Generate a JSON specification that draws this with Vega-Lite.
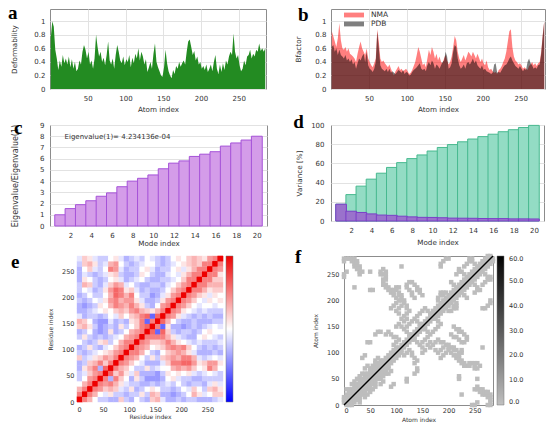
{
"$schema":"https://vega.github.io/schema/vega-lite/v6.json",
"background":"white",
"padding":{"left":7,"top":3,"right":0,"bottom":0},
"spacing":-1,
"resolve":{"scale":{"color":"independent","x":"independent","y":"independent"},"legend":{"color":"independent"}},
"config":{
 "font":"DejaVu Sans",
 "view":{"stroke":"#8c8c8c","strokeWidth":1},
 "axis":{"labelFontSize":7,"titleFontSize":7.2,"titleFontWeight":"normal","labelColor":"#333333","titleColor":"#333333","gridColor":"#e2e2e2","domain":false,"ticks":false,"labelOverlap":false},
 "legend":{"labelColor":"#333333","labelFont":"DejaVu Sans"}
},
"vconcat":[
{"hconcat":[
 {"width":216,"height":80,
  "layer":[
   {"data":{"values":[{"i":1,"d":0.75},{"i":3,"d":1.0},{"i":5,"d":0.92},{"i":7,"d":0.58},{"i":9,"d":0.45},{"i":11,"d":0.28},{"i":13,"d":0.42},{"i":15,"d":0.33},{"i":17,"d":0.5},{"i":19,"d":0.38},{"i":21,"d":0.45},{"i":23,"d":0.36},{"i":25,"d":0.48},{"i":27,"d":0.32},{"i":29,"d":0.44},{"i":31,"d":0.3},{"i":33,"d":0.4},{"i":35,"d":0.26},{"i":37,"d":0.3},{"i":39,"d":0.42},{"i":41,"d":0.36},{"i":43,"d":0.55},{"i":45,"d":0.65},{"i":47,"d":0.58},{"i":49,"d":0.45},{"i":51,"d":0.55},{"i":53,"d":0.36},{"i":55,"d":0.42},{"i":57,"d":0.3},{"i":59,"d":0.45},{"i":61,"d":0.8},{"i":63,"d":0.62},{"i":65,"d":0.48},{"i":67,"d":0.55},{"i":69,"d":0.4},{"i":71,"d":0.46},{"i":73,"d":0.35},{"i":75,"d":0.5},{"i":77,"d":0.7},{"i":79,"d":0.42},{"i":81,"d":0.36},{"i":83,"d":0.45},{"i":85,"d":0.3},{"i":87,"d":0.5},{"i":89,"d":0.65},{"i":91,"d":0.55},{"i":93,"d":0.42},{"i":95,"d":0.38},{"i":97,"d":0.48},{"i":99,"d":0.35},{"i":101,"d":0.44},{"i":103,"d":0.4},{"i":105,"d":0.5},{"i":107,"d":0.32},{"i":109,"d":0.46},{"i":111,"d":0.38},{"i":113,"d":0.52},{"i":115,"d":0.45},{"i":117,"d":0.6},{"i":119,"d":0.42},{"i":121,"d":0.55},{"i":123,"d":0.48},{"i":125,"d":0.36},{"i":127,"d":0.44},{"i":129,"d":0.25},{"i":131,"d":0.32},{"i":133,"d":0.4},{"i":135,"d":0.3},{"i":137,"d":0.52},{"i":139,"d":0.67},{"i":141,"d":0.4},{"i":143,"d":0.32},{"i":145,"d":0.26},{"i":147,"d":0.2},{"i":149,"d":0.18},{"i":151,"d":0.32},{"i":153,"d":0.58},{"i":155,"d":0.38},{"i":157,"d":0.26},{"i":159,"d":0.2},{"i":161,"d":0.16},{"i":163,"d":0.28},{"i":165,"d":0.22},{"i":167,"d":0.34},{"i":169,"d":0.3},{"i":171,"d":0.4},{"i":173,"d":0.33},{"i":175,"d":0.38},{"i":177,"d":0.42},{"i":179,"d":0.36},{"i":181,"d":0.55},{"i":183,"d":0.7},{"i":185,"d":0.73},{"i":187,"d":0.62},{"i":189,"d":0.5},{"i":191,"d":0.56},{"i":193,"d":0.42},{"i":195,"d":0.48},{"i":197,"d":0.36},{"i":199,"d":0.4},{"i":201,"d":0.3},{"i":203,"d":0.34},{"i":205,"d":0.28},{"i":207,"d":0.36},{"i":209,"d":0.25},{"i":211,"d":0.3},{"i":213,"d":0.36},{"i":215,"d":0.26},{"i":217,"d":0.4},{"i":219,"d":0.5},{"i":221,"d":0.3},{"i":223,"d":0.22},{"i":225,"d":0.36},{"i":227,"d":0.25},{"i":229,"d":0.38},{"i":231,"d":0.28},{"i":233,"d":0.42},{"i":235,"d":0.36},{"i":237,"d":0.48},{"i":239,"d":0.55},{"i":241,"d":0.5},{"i":243,"d":0.82},{"i":245,"d":0.55},{"i":247,"d":0.45},{"i":249,"d":0.5},{"i":251,"d":0.35},{"i":253,"d":0.26},{"i":255,"d":0.3},{"i":257,"d":0.42},{"i":259,"d":0.35},{"i":261,"d":0.48},{"i":263,"d":0.5},{"i":265,"d":0.58},{"i":267,"d":0.45},{"i":269,"d":0.52},{"i":271,"d":0.48},{"i":273,"d":0.58},{"i":275,"d":0.55},{"i":277,"d":0.67},{"i":279,"d":0.56},{"i":281,"d":0.6},{"i":283,"d":0.55},{"i":285,"d":0.6}]},
    "mark":{"type":"area","color":"#238b22"},
    "encoding":{
     "x":{"field":"i","type":"quantitative","title":"Atom index","scale":{"domain":[0,286],"nice":false,"zero":false},"axis":{"values":[50,100,150,200,250],"labelPadding":5,"titlePadding":4}},
     "y":{"field":"d","type":"quantitative","title":"Deformability","scale":{"domain":[0,1.18],"nice":false},"axis":{"values":[0,0.2,0.4,0.6,0.8,1],"format":".1~f","labelPadding":5,"titlePadding":15}}
    }},
   {"data":{"values":[{"t":"a"}]},
    "mark":{"type":"text","font":"Liberation Serif","fontWeight":"bold","fontSize":19,"align":"left","baseline":"alphabetic","color":"#000000"},
    "encoding":{
     "x":{"datum":-55.6,"type":"quantitative","title":"Atom index","axis":{"values":[50,100,150,200,250],"labelPadding":5,"titlePadding":4}},
     "y":{"datum":1.033,"type":"quantitative","title":"Deformability","axis":{"values":[0,0.2,0.4,0.6,0.8,1],"format":".1~f","labelPadding":5,"titlePadding":15}},
     "text":{"field":"t"}
    }}
  ]
 },
 {"width":214,"height":80,
  "layer":[
   {"data":{"values":[{"i":1,"NMA":0.85,"PDB":0.62},{"i":3,"NMA":0.78,"PDB":0.65},{"i":5,"NMA":0.7,"PDB":0.55},{"i":7,"NMA":0.62,"PDB":0.6},{"i":9,"NMA":0.75,"PDB":0.5},{"i":11,"NMA":0.97,"PDB":0.58},{"i":13,"NMA":0.72,"PDB":0.5},{"i":15,"NMA":0.6,"PDB":0.48},{"i":17,"NMA":0.58,"PDB":0.45},{"i":19,"NMA":0.62,"PDB":0.5},{"i":21,"NMA":0.55,"PDB":0.42},{"i":23,"NMA":0.6,"PDB":0.45},{"i":25,"NMA":0.52,"PDB":0.4},{"i":27,"NMA":0.5,"PDB":0.44},{"i":29,"NMA":0.48,"PDB":0.36},{"i":31,"NMA":0.45,"PDB":0.4},{"i":33,"NMA":0.4,"PDB":0.3},{"i":35,"NMA":0.52,"PDB":0.38},{"i":37,"NMA":0.62,"PDB":0.45},{"i":39,"NMA":0.7,"PDB":0.42},{"i":41,"NMA":0.6,"PDB":0.48},{"i":43,"NMA":0.55,"PDB":0.52},{"i":45,"NMA":0.5,"PDB":0.4},{"i":47,"NMA":0.6,"PDB":0.55},{"i":49,"NMA":0.45,"PDB":0.35},{"i":51,"NMA":0.4,"PDB":0.3},{"i":53,"NMA":0.35,"PDB":0.28},{"i":55,"NMA":0.32,"PDB":0.25},{"i":57,"NMA":0.38,"PDB":0.3},{"i":59,"NMA":0.45,"PDB":0.4},{"i":61,"NMA":0.88,"PDB":0.85},{"i":63,"NMA":0.7,"PDB":0.6},{"i":65,"NMA":0.45,"PDB":0.35},{"i":67,"NMA":0.4,"PDB":0.3},{"i":69,"NMA":0.42,"PDB":0.28},{"i":71,"NMA":0.38,"PDB":0.26},{"i":73,"NMA":0.35,"PDB":0.3},{"i":75,"NMA":0.32,"PDB":0.25},{"i":77,"NMA":0.36,"PDB":0.3},{"i":79,"NMA":0.3,"PDB":0.24},{"i":81,"NMA":0.24,"PDB":0.26},{"i":83,"NMA":0.2,"PDB":0.24},{"i":85,"NMA":0.26,"PDB":0.22},{"i":87,"NMA":0.3,"PDB":0.25},{"i":89,"NMA":0.34,"PDB":0.28},{"i":91,"NMA":0.28,"PDB":0.26},{"i":93,"NMA":0.3,"PDB":0.24},{"i":95,"NMA":0.26,"PDB":0.28},{"i":97,"NMA":0.28,"PDB":0.22},{"i":99,"NMA":0.3,"PDB":0.25},{"i":101,"NMA":0.26,"PDB":0.24},{"i":103,"NMA":0.22,"PDB":0.2},{"i":105,"NMA":0.24,"PDB":0.21},{"i":107,"NMA":0.28,"PDB":0.25},{"i":109,"NMA":0.34,"PDB":0.28},{"i":111,"NMA":0.4,"PDB":0.3},{"i":113,"NMA":0.5,"PDB":0.32},{"i":115,"NMA":0.62,"PDB":0.35},{"i":117,"NMA":0.55,"PDB":0.38},{"i":119,"NMA":0.45,"PDB":0.3},{"i":121,"NMA":0.35,"PDB":0.28},{"i":123,"NMA":0.38,"PDB":0.3},{"i":125,"NMA":0.32,"PDB":0.26},{"i":127,"NMA":0.45,"PDB":0.35},{"i":129,"NMA":0.58,"PDB":0.4},{"i":131,"NMA":0.5,"PDB":0.35},{"i":133,"NMA":0.62,"PDB":0.42},{"i":135,"NMA":0.55,"PDB":0.38},{"i":137,"NMA":0.45,"PDB":0.3},{"i":139,"NMA":0.52,"PDB":0.36},{"i":141,"NMA":0.42,"PDB":0.34},{"i":143,"NMA":0.48,"PDB":0.3},{"i":145,"NMA":0.4,"PDB":0.35},{"i":147,"NMA":0.38,"PDB":0.4},{"i":149,"NMA":0.45,"PDB":0.42},{"i":151,"NMA":0.5,"PDB":0.55},{"i":153,"NMA":0.42,"PDB":0.48},{"i":155,"NMA":0.36,"PDB":0.3},{"i":157,"NMA":0.4,"PDB":0.32},{"i":159,"NMA":0.48,"PDB":0.38},{"i":161,"NMA":0.62,"PDB":0.55},{"i":163,"NMA":0.78,"PDB":0.65},{"i":165,"NMA":0.72,"PDB":0.62},{"i":167,"NMA":0.55,"PDB":0.45},{"i":169,"NMA":0.45,"PDB":0.35},{"i":171,"NMA":0.4,"PDB":0.3},{"i":173,"NMA":0.45,"PDB":0.32},{"i":175,"NMA":0.5,"PDB":0.36},{"i":177,"NMA":0.42,"PDB":0.3},{"i":179,"NMA":0.48,"PDB":0.38},{"i":181,"NMA":0.55,"PDB":0.4},{"i":183,"NMA":0.52,"PDB":0.36},{"i":185,"NMA":0.48,"PDB":0.4},{"i":187,"NMA":0.55,"PDB":0.45},{"i":189,"NMA":0.5,"PDB":0.38},{"i":191,"NMA":0.45,"PDB":0.42},{"i":193,"NMA":0.52,"PDB":0.35},{"i":195,"NMA":0.46,"PDB":0.32},{"i":197,"NMA":0.4,"PDB":0.3},{"i":199,"NMA":0.45,"PDB":0.35},{"i":201,"NMA":0.38,"PDB":0.28},{"i":203,"NMA":0.35,"PDB":0.3},{"i":205,"NMA":0.42,"PDB":0.26},{"i":207,"NMA":0.32,"PDB":0.25},{"i":209,"NMA":0.28,"PDB":0.24},{"i":211,"NMA":0.3,"PDB":0.22},{"i":213,"NMA":0.26,"PDB":0.24},{"i":215,"NMA":0.24,"PDB":0.36},{"i":217,"NMA":0.25,"PDB":0.38},{"i":219,"NMA":0.22,"PDB":0.24},{"i":221,"NMA":0.28,"PDB":0.25},{"i":223,"NMA":0.3,"PDB":0.24},{"i":225,"NMA":0.34,"PDB":0.28},{"i":227,"NMA":0.4,"PDB":0.32},{"i":229,"NMA":0.45,"PDB":0.35},{"i":231,"NMA":0.55,"PDB":0.36},{"i":233,"NMA":0.7,"PDB":0.4},{"i":235,"NMA":0.85,"PDB":0.45},{"i":237,"NMA":0.88,"PDB":0.48},{"i":239,"NMA":0.62,"PDB":0.42},{"i":241,"NMA":0.48,"PDB":0.38},{"i":243,"NMA":0.42,"PDB":0.34},{"i":245,"NMA":0.4,"PDB":0.32},{"i":247,"NMA":0.36,"PDB":0.3},{"i":249,"NMA":0.38,"PDB":0.34},{"i":251,"NMA":0.35,"PDB":0.3},{"i":253,"NMA":0.3,"PDB":0.26},{"i":255,"NMA":0.32,"PDB":0.3},{"i":257,"NMA":0.3,"PDB":0.28},{"i":259,"NMA":0.28,"PDB":0.4},{"i":261,"NMA":0.34,"PDB":0.45},{"i":263,"NMA":0.36,"PDB":0.38},{"i":265,"NMA":0.4,"PDB":0.35},{"i":267,"NMA":0.35,"PDB":0.3},{"i":269,"NMA":0.38,"PDB":0.32},{"i":271,"NMA":0.34,"PDB":0.3},{"i":273,"NMA":0.38,"PDB":0.35},{"i":275,"NMA":0.4,"PDB":0.36},{"i":277,"NMA":0.55,"PDB":0.52},{"i":279,"NMA":0.8,"PDB":0.78},{"i":281,"NMA":1.0,"PDB":1.0}]},
    "transform":[{"fold":["NMA","PDB"],"as":["s","v"]}],
    "mark":{"type":"area","opacity":0.5},
    "encoding":{
     "x":{"field":"i","type":"quantitative","title":"Atom index","scale":{"domain":[0,282],"nice":false,"zero":false},"axis":{"values":[50,100,150,200,250],"labelPadding":5,"titlePadding":4}},
     "y":{"field":"v","type":"quantitative","title":"Bfactor","stack":null,"scale":{"domain":[0,1.18],"nice":false},"axis":{"values":[0,0.2,0.4,0.6,0.8,1],"format":".1~f","labelPadding":5,"titlePadding":12.8}},
     "color":{"field":"s","type":"nominal","scale":{"domain":["NMA","PDB"],"range":["#ff0000","#000000"]},"legend":{"title":null,"orient":"none","legendX":18,"legendY":1,"direction":"vertical","symbolType":"M-2.5,-0.6H2.5V0.6H-2.5Z","symbolSize":64,"symbolOpacity":0.5,"labelFontSize":7.5,"labelOffset":12,"rowPadding":0,"padding":0}}
    }},
   {"data":{"values":[{"t":"b"}]},
    "mark":{"type":"text","font":"Liberation Serif","fontWeight":"bold","fontSize":19,"align":"left","baseline":"alphabetic","color":"#000000"},
    "encoding":{
     "x":{"datum":-43.5,"type":"quantitative","title":"Atom index","axis":{"values":[50,100,150,200,250],"labelPadding":5,"titlePadding":4}},
     "y":{"datum":1.0,"type":"quantitative","title":"Bfactor","axis":{"values":[0,0.2,0.4,0.6,0.8,1],"format":".1~f","labelPadding":5,"titlePadding":12.8}},
     "text":{"field":"t"}
    }}
  ]
 }
],"bounds":"flush","spacing":65,"resolve":{"scale":{"color":"independent","x":"independent","y":"independent"},"legend":{"color":"independent"}}},
{"hconcat":[
 {"width":217,"height":101,
  "layer":[
   {"data":{"values":[{"m":1,"e":1.0},{"m":2,"e":1.55},{"m":3,"e":1.9},{"m":4,"e":2.25},{"m":5,"e":2.65},{"m":6,"e":2.95},{"m":7,"e":3.5},{"m":8,"e":4.0},{"m":9,"e":4.25},{"m":10,"e":4.55},{"m":11,"e":5.1},{"m":12,"e":5.6},{"m":13,"e":5.8},{"m":14,"e":6.2},{"m":15,"e":6.4},{"m":16,"e":6.62},{"m":17,"e":7.12},{"m":18,"e":7.4},{"m":19,"e":7.66},{"m":20,"e":8.0}]},
    "mark":{"type":"bar","width":10.85,"fill":"#d49ce9","stroke":"#a552d8","strokeWidth":1},
    "encoding":{
     "x":{"field":"m","type":"quantitative","title":"Mode index","scale":{"domain":[0.5,20.5],"nice":false,"zero":false},"axis":{"values":[2,4,6,8,10,12,14,16,18,20],"labelPadding":5,"titlePadding":1.5,"grid":false}},
     "y":{"field":"e","type":"quantitative","title":"Eigenvalue/Eigenvalue(1)","scale":{"domain":[0,9],"nice":false},"axis":{"values":[0,1,2,3,4,5,6,7,8,9],"titleFontSize":8,"labelPadding":6,"titlePadding":20.5}}
    }},
   {"data":{"values":[{"t":"Eigenvalue(1)= 4.234136e-04"}]},
    "mark":{"type":"text","align":"left","baseline":"middle","fontSize":7,"color":"#333333"},
    "encoding":{
     "x":{"datum":1.42,"type":"quantitative","title":"Mode index","axis":{"values":[2,4,6,8,10,12,14,16,18,20],"labelPadding":5,"titlePadding":1.5,"grid":false}},
     "y":{"datum":7.9,"type":"quantitative","title":"Eigenvalue/Eigenvalue(1)","axis":{"values":[0,1,2,3,4,5,6,7,8,9],"titleFontSize":8,"labelPadding":6,"titlePadding":20.5}},
     "text":{"field":"t"}}},
   {"data":{"values":[{"t":"c"}]},
    "mark":{"type":"text","font":"Liberation Serif","fontWeight":"bold","fontSize":19,"align":"left","baseline":"alphabetic","color":"#000000"},
    "encoding":{
     "x":{"datum":-3.45,"type":"quantitative","title":"Mode index","axis":{"values":[2,4,6,8,10,12,14,16,18,20],"labelPadding":5,"titlePadding":1.5,"grid":false}},
     "y":{"datum":8.2,"type":"quantitative","title":"Eigenvalue/Eigenvalue(1)","axis":{"values":[0,1,2,3,4,5,6,7,8,9],"titleFontSize":8,"labelPadding":6,"titlePadding":20.5}},
     "text":{"field":"t"}}}
  ]
 },
 {"width":213,"height":96,
  "layer":[
   {"data":{"values":[{"m":1,"c":17.5,"p":17.5},{"m":2,"c":27.5,"p":10.2},{"m":3,"c":36.3,"p":8.9},{"m":4,"c":43.6,"p":7.4},{"m":5,"c":49.8,"p":6.2},{"m":6,"c":55.8,"p":5.9},{"m":7,"c":60.8,"p":5.0},{"m":8,"c":65.0,"p":4.3},{"m":9,"c":68.8,"p":3.8},{"m":10,"c":72.9,"p":3.7},{"m":11,"c":76.6,"p":3.4},{"m":12,"c":79.6,"p":3.0},{"m":13,"c":82.5,"p":2.9},{"m":14,"c":85.4,"p":2.8},{"m":15,"c":87.9,"p":2.6},{"m":16,"c":90.4,"p":2.5},{"m":17,"c":93.0,"p":2.5},{"m":18,"c":95.1,"p":2.2},{"m":19,"c":97.4,"p":2.2},{"m":20,"c":99.6,"p":2.1}]},
    "layer":[
     {"mark":{"type":"bar","width":10.65,"fill":"#93dcc4","stroke":"#47b98f","strokeWidth":1},
      "encoding":{
       "x":{"field":"m","type":"quantitative","title":"Mode index","scale":{"domain":[0.5,20.5],"nice":false,"zero":false},"axis":{"values":[2,4,6,8,10,12,14,16,18,20],"labelPadding":5,"titlePadding":5,"grid":false}},
       "y":{"field":"c","type":"quantitative","title":"Variance [%]","scale":{"domain":[0,100],"nice":false},"axis":{"values":[0,20,40,60,80,100],"labelPadding":7,"titlePadding":7.5}}}},
     {"mark":{"type":"bar","width":10.65,"fill":"#9a72cc","stroke":"#7b3fc8","strokeWidth":1},
      "encoding":{
       "x":{"field":"m","type":"quantitative","title":"Mode index","axis":{"values":[2,4,6,8,10,12,14,16,18,20],"labelPadding":5,"titlePadding":5,"grid":false}},
       "y":{"field":"p","type":"quantitative","title":"Variance [%]","axis":{"values":[0,20,40,60,80,100],"labelPadding":7,"titlePadding":7.5}}}}
    ]},
   {"data":{"values":[{"t":"d"}]},
    "mark":{"type":"text","font":"Liberation Serif","fontWeight":"bold","fontSize":19,"align":"left","baseline":"alphabetic","color":"#000000"},
    "encoding":{
     "x":{"datum":-3.72,"type":"quantitative","title":"Mode index","axis":{"values":[2,4,6,8,10,12,14,16,18,20],"labelPadding":5,"titlePadding":5,"grid":false}},
     "y":{"datum":96.9,"type":"quantitative","title":"Variance [%]","axis":{"values":[0,20,40,60,80,100],"labelPadding":7,"titlePadding":7.5}},
     "text":{"field":"t"}}}
  ]
 }
],"bounds":"flush","spacing":64,"resolve":{"scale":{"color":"independent","x":"independent","y":"independent"},"legend":{"color":"independent"}}},
{"hconcat":[
 {"width":173,"height":146,
  "view":{"stroke":null},
  "layer":[
   {"data":{"values":[
{"x":5,"y":5,"v":10},
{"x":5,"y":15,"v":5},{"x":15,"y":15,"v":10},
{"x":5,"y":25,"v":3},{"x":15,"y":25,"v":5},{"x":25,"y":25,"v":10},
{"x":5,"y":35,"v":0},{"x":15,"y":35,"v":3},{"x":25,"y":35,"v":5},{"x":35,"y":35,"v":10},
{"x":5,"y":45,"v":-2},{"x":15,"y":45,"v":0},{"x":25,"y":45,"v":4},{"x":35,"y":45,"v":5},{"x":45,"y":45,"v":10},
{"x":5,"y":55,"v":-2},{"x":15,"y":55,"v":-1},{"x":25,"y":55,"v":2},{"x":35,"y":55,"v":4},{"x":45,"y":55,"v":5},{"x":55,"y":55,"v":10},
{"x":5,"y":65,"v":-3},{"x":15,"y":65,"v":1},{"x":25,"y":65,"v":3},{"x":35,"y":65,"v":5},{"x":45,"y":65,"v":-3},{"x":55,"y":65,"v":6},{"x":65,"y":65,"v":10},
{"x":5,"y":75,"v":-3},{"x":15,"y":75,"v":-2},{"x":25,"y":75,"v":2},{"x":35,"y":75,"v":3},{"x":45,"y":75,"v":5},{"x":55,"y":75,"v":2},{"x":65,"y":75,"v":5},{"x":75,"y":75,"v":10},
{"x":5,"y":85,"v":2},{"x":15,"y":85,"v":-2},{"x":25,"y":85,"v":-1},{"x":35,"y":85,"v":1},{"x":45,"y":85,"v":2},{"x":55,"y":85,"v":4},{"x":65,"y":85,"v":3},{"x":75,"y":85,"v":5},{"x":85,"y":85,"v":10},
{"x":5,"y":95,"v":-2},{"x":15,"y":95,"v":-3},{"x":25,"y":95,"v":-2},{"x":35,"y":95,"v":-1},{"x":45,"y":95,"v":0},{"x":55,"y":95,"v":1},{"x":65,"y":95,"v":2},{"x":75,"y":95,"v":4},{"x":85,"y":95,"v":5},{"x":95,"y":95,"v":10},
{"x":5,"y":105,"v":-3},{"x":15,"y":105,"v":-2},{"x":25,"y":105,"v":1},{"x":35,"y":105,"v":-2},{"x":45,"y":105,"v":-3},{"x":55,"y":105,"v":-1},{"x":65,"y":105,"v":0},{"x":75,"y":105,"v":2},{"x":85,"y":105,"v":4},{"x":95,"y":105,"v":5},{"x":105,"y":105,"v":10},
{"x":5,"y":115,"v":0},{"x":15,"y":115,"v":-2},{"x":25,"y":115,"v":-3},{"x":35,"y":115,"v":-2},{"x":45,"y":115,"v":1},{"x":55,"y":115,"v":2},{"x":65,"y":115,"v":-2},{"x":75,"y":115,"v":0},{"x":85,"y":115,"v":3},{"x":95,"y":115,"v":5},{"x":105,"y":115,"v":5},{"x":115,"y":115,"v":10},
{"x":5,"y":125,"v":-2},{"x":15,"y":125,"v":1},{"x":25,"y":125,"v":-2},{"x":35,"y":125,"v":-3},{"x":45,"y":125,"v":-2},{"x":55,"y":125,"v":-3},{"x":65,"y":125,"v":-2},{"x":75,"y":125,"v":-1},{"x":85,"y":125,"v":0},{"x":95,"y":125,"v":3},{"x":105,"y":125,"v":4},{"x":115,"y":125,"v":5},{"x":125,"y":125,"v":10},
{"x":5,"y":135,"v":-3},{"x":15,"y":135,"v":-2},{"x":25,"y":135,"v":0},{"x":35,"y":135,"v":-3},{"x":45,"y":135,"v":-4},{"x":55,"y":135,"v":-3},{"x":65,"y":135,"v":1},{"x":75,"y":135,"v":-3},{"x":85,"y":135,"v":-2},{"x":95,"y":135,"v":0},{"x":105,"y":135,"v":3},{"x":115,"y":135,"v":4},{"x":125,"y":135,"v":5},{"x":135,"y":135,"v":10},
{"x":5,"y":145,"v":2},{"x":15,"y":145,"v":3},{"x":25,"y":145,"v":1},{"x":35,"y":145,"v":-2},{"x":45,"y":145,"v":-4},{"x":55,"y":145,"v":-3},{"x":65,"y":145,"v":-2},{"x":75,"y":145,"v":-3},{"x":85,"y":145,"v":1},{"x":95,"y":145,"v":-2},{"x":105,"y":145,"v":0},{"x":115,"y":145,"v":2},{"x":125,"y":145,"v":5},{"x":135,"y":145,"v":6},{"x":145,"y":145,"v":10},
{"x":5,"y":155,"v":3},{"x":15,"y":155,"v":2},{"x":25,"y":155,"v":0},{"x":35,"y":155,"v":-3},{"x":45,"y":155,"v":-4},{"x":55,"y":155,"v":-4},{"x":65,"y":155,"v":-1},{"x":75,"y":155,"v":-3},{"x":85,"y":155,"v":-2},{"x":95,"y":155,"v":-3},{"x":105,"y":155,"v":1},{"x":115,"y":155,"v":2},{"x":125,"y":155,"v":5},{"x":135,"y":155,"v":-6},{"x":145,"y":155,"v":5},{"x":155,"y":155,"v":10},
{"x":5,"y":165,"v":-1},{"x":15,"y":165,"v":-3},{"x":25,"y":165,"v":-2},{"x":35,"y":165,"v":-2},{"x":45,"y":165,"v":-3},{"x":55,"y":165,"v":-2},{"x":65,"y":165,"v":0},{"x":75,"y":165,"v":-1},{"x":85,"y":165,"v":2},{"x":95,"y":165,"v":0},{"x":105,"y":165,"v":2},{"x":115,"y":165,"v":3},{"x":125,"y":165,"v":5},{"x":135,"y":165,"v":6},{"x":145,"y":165,"v":-6},{"x":155,"y":165,"v":6},{"x":165,"y":165,"v":10},
{"x":5,"y":175,"v":-3},{"x":15,"y":175,"v":-3},{"x":25,"y":175,"v":-2},{"x":35,"y":175,"v":-1},{"x":45,"y":175,"v":0},{"x":55,"y":175,"v":1},{"x":65,"y":175,"v":0},{"x":75,"y":175,"v":2},{"x":85,"y":175,"v":3},{"x":95,"y":175,"v":2},{"x":105,"y":175,"v":4},{"x":115,"y":175,"v":5},{"x":125,"y":175,"v":3},{"x":135,"y":175,"v":2},{"x":145,"y":175,"v":1},{"x":155,"y":175,"v":3},{"x":165,"y":175,"v":5},{"x":175,"y":175,"v":10},
{"x":5,"y":185,"v":-3},{"x":15,"y":185,"v":-4},{"x":25,"y":185,"v":-3},{"x":35,"y":185,"v":-2},{"x":45,"y":185,"v":1},{"x":55,"y":185,"v":0},{"x":65,"y":185,"v":3},{"x":75,"y":185,"v":5},{"x":85,"y":185,"v":4},{"x":95,"y":185,"v":3},{"x":105,"y":185,"v":5},{"x":115,"y":185,"v":3},{"x":125,"y":185,"v":1},{"x":135,"y":185,"v":-2},{"x":145,"y":185,"v":-3},{"x":155,"y":185,"v":0},{"x":165,"y":185,"v":4},{"x":175,"y":185,"v":5},{"x":185,"y":185,"v":10},
{"x":5,"y":195,"v":-2},{"x":15,"y":195,"v":-3},{"x":25,"y":195,"v":-2},{"x":35,"y":195,"v":0},{"x":45,"y":195,"v":-1},{"x":55,"y":195,"v":1},{"x":65,"y":195,"v":4},{"x":75,"y":195,"v":5},{"x":85,"y":195,"v":3},{"x":95,"y":195,"v":4},{"x":105,"y":195,"v":4},{"x":115,"y":195,"v":1},{"x":125,"y":195,"v":-1},{"x":135,"y":195,"v":-3},{"x":145,"y":195,"v":-3},{"x":155,"y":195,"v":-2},{"x":165,"y":195,"v":1},{"x":175,"y":195,"v":4},{"x":185,"y":195,"v":5},{"x":195,"y":195,"v":10},
{"x":5,"y":205,"v":-3},{"x":15,"y":205,"v":-2},{"x":25,"y":205,"v":0},{"x":35,"y":205,"v":-2},{"x":45,"y":205,"v":-2},{"x":55,"y":205,"v":0},{"x":65,"y":205,"v":3},{"x":75,"y":205,"v":6},{"x":85,"y":205,"v":5},{"x":95,"y":205,"v":3},{"x":105,"y":205,"v":5},{"x":115,"y":205,"v":0},{"x":125,"y":205,"v":-2},{"x":135,"y":205,"v":-2},{"x":145,"y":205,"v":-4},{"x":155,"y":205,"v":-3},{"x":165,"y":205,"v":-1},{"x":175,"y":205,"v":1},{"x":185,"y":205,"v":4},{"x":195,"y":205,"v":5},{"x":205,"y":205,"v":10},
{"x":5,"y":215,"v":-2},{"x":15,"y":215,"v":0},{"x":25,"y":215,"v":-1},{"x":35,"y":215,"v":-3},{"x":45,"y":215,"v":-2},{"x":55,"y":215,"v":1},{"x":65,"y":215,"v":4},{"x":75,"y":215,"v":6},{"x":85,"y":215,"v":5},{"x":95,"y":215,"v":1},{"x":105,"y":215,"v":2},{"x":115,"y":215,"v":-1},{"x":125,"y":215,"v":-3},{"x":135,"y":215,"v":-2},{"x":145,"y":215,"v":-3},{"x":155,"y":215,"v":-3},{"x":165,"y":215,"v":-2},{"x":175,"y":215,"v":0},{"x":185,"y":215,"v":2},{"x":195,"y":215,"v":4},{"x":205,"y":215,"v":5},{"x":215,"y":215,"v":10},
{"x":5,"y":225,"v":-2},{"x":15,"y":225,"v":3},{"x":25,"y":225,"v":2},{"x":35,"y":225,"v":-2},{"x":45,"y":225,"v":-3},{"x":55,"y":225,"v":-1},{"x":65,"y":225,"v":2},{"x":75,"y":225,"v":4},{"x":85,"y":225,"v":3},{"x":95,"y":225,"v":-1},{"x":105,"y":225,"v":0},{"x":115,"y":225,"v":-2},{"x":125,"y":225,"v":-3},{"x":135,"y":225,"v":-3},{"x":145,"y":225,"v":-2},{"x":155,"y":225,"v":-2},{"x":165,"y":225,"v":-3},{"x":175,"y":225,"v":-1},{"x":185,"y":225,"v":0},{"x":195,"y":225,"v":2},{"x":205,"y":225,"v":4},{"x":215,"y":225,"v":5},{"x":225,"y":225,"v":10},
{"x":5,"y":235,"v":-3},{"x":15,"y":235,"v":1},{"x":25,"y":235,"v":0},{"x":35,"y":235,"v":-2},{"x":45,"y":235,"v":-3},{"x":55,"y":235,"v":-2},{"x":65,"y":235,"v":0},{"x":75,"y":235,"v":1},{"x":85,"y":235,"v":-1},{"x":95,"y":235,"v":-3},{"x":105,"y":235,"v":-2},{"x":115,"y":235,"v":-1},{"x":125,"y":235,"v":0},{"x":135,"y":235,"v":-2},{"x":145,"y":235,"v":-3},{"x":155,"y":235,"v":-3},{"x":165,"y":235,"v":-2},{"x":175,"y":235,"v":-2},{"x":185,"y":235,"v":-1},{"x":195,"y":235,"v":0},{"x":205,"y":235,"v":2},{"x":215,"y":235,"v":5},{"x":225,"y":235,"v":5},{"x":235,"y":235,"v":10},
{"x":5,"y":245,"v":-3},{"x":15,"y":245,"v":-1},{"x":25,"y":245,"v":-2},{"x":35,"y":245,"v":-3},{"x":45,"y":245,"v":-2},{"x":55,"y":245,"v":-1},{"x":65,"y":245,"v":1},{"x":75,"y":245,"v":2},{"x":85,"y":245,"v":-2},{"x":95,"y":245,"v":-3},{"x":105,"y":245,"v":-3},{"x":115,"y":245,"v":-2},{"x":125,"y":245,"v":1},{"x":135,"y":245,"v":0},{"x":145,"y":245,"v":-2},{"x":155,"y":245,"v":-3},{"x":165,"y":245,"v":-3},{"x":175,"y":245,"v":-1},{"x":185,"y":245,"v":0},{"x":195,"y":245,"v":-1},{"x":205,"y":245,"v":1},{"x":215,"y":245,"v":3},{"x":225,"y":245,"v":5},{"x":235,"y":245,"v":5},{"x":245,"y":245,"v":10},
{"x":5,"y":255,"v":-3},{"x":15,"y":255,"v":0},{"x":25,"y":255,"v":2},{"x":35,"y":255,"v":-1},{"x":45,"y":255,"v":-2},{"x":55,"y":255,"v":0},{"x":65,"y":255,"v":5},{"x":75,"y":255,"v":4},{"x":85,"y":255,"v":-1},{"x":95,"y":255,"v":-3},{"x":105,"y":255,"v":-2},{"x":115,"y":255,"v":-2},{"x":125,"y":255,"v":0},{"x":135,"y":255,"v":1},{"x":145,"y":255,"v":-1},{"x":155,"y":255,"v":-3},{"x":165,"y":255,"v":-2},{"x":175,"y":255,"v":-2},{"x":185,"y":255,"v":0},{"x":195,"y":255,"v":1},{"x":205,"y":255,"v":-1},{"x":215,"y":255,"v":1},{"x":225,"y":255,"v":3},{"x":235,"y":255,"v":5},{"x":245,"y":255,"v":5},{"x":255,"y":255,"v":10},
{"x":5,"y":265,"v":-2},{"x":15,"y":265,"v":2},{"x":25,"y":265,"v":3},{"x":35,"y":265,"v":1},{"x":45,"y":265,"v":-2},{"x":55,"y":265,"v":-1},{"x":65,"y":265,"v":3},{"x":75,"y":265,"v":4},{"x":85,"y":265,"v":0},{"x":95,"y":265,"v":-2},{"x":105,"y":265,"v":-3},{"x":115,"y":265,"v":-2},{"x":125,"y":265,"v":-1},{"x":135,"y":265,"v":0},{"x":145,"y":265,"v":0},{"x":155,"y":265,"v":-2},{"x":165,"y":265,"v":-3},{"x":175,"y":265,"v":-2},{"x":185,"y":265,"v":-1},{"x":195,"y":265,"v":0},{"x":205,"y":265,"v":1},{"x":215,"y":265,"v":2},{"x":225,"y":265,"v":3},{"x":235,"y":265,"v":2},{"x":245,"y":265,"v":5},{"x":255,"y":265,"v":5},{"x":265,"y":265,"v":10},
{"x":5,"y":275,"v":-1},{"x":15,"y":275,"v":2},{"x":25,"y":275,"v":1},{"x":35,"y":275,"v":-1},{"x":45,"y":275,"v":-2},{"x":55,"y":275,"v":-2},{"x":65,"y":275,"v":0},{"x":75,"y":275,"v":1},{"x":85,"y":275,"v":-1},{"x":95,"y":275,"v":-3},{"x":105,"y":275,"v":-2},{"x":115,"y":275,"v":-1},{"x":125,"y":275,"v":-2},{"x":135,"y":275,"v":0},{"x":145,"y":275,"v":-1},{"x":155,"y":275,"v":-2},{"x":165,"y":275,"v":-3},{"x":175,"y":275,"v":-2},{"x":185,"y":275,"v":0},{"x":195,"y":275,"v":1},{"x":205,"y":275,"v":0},{"x":215,"y":275,"v":2},{"x":225,"y":275,"v":3},{"x":235,"y":275,"v":2},{"x":245,"y":275,"v":1},{"x":255,"y":275,"v":4},{"x":265,"y":275,"v":5},{"x":275,"y":275,"v":10}
    ]},
    "layer":[
     {"mark":{"type":"point","shape":"square","filled":true,"size":31,"opacity":1,"strokeWidth":0},
      "encoding":{
       "x":{"field":"x","type":"quantitative","title":"Residue index","scale":{"domain":[0,280],"range":[27,173],"nice":false,"zero":false},"axis":{"values":[0,50,100,150,200,250],"grid":false,"labelFontSize":6.5,"titleFontSize":6,"labelPadding":4,"titlePadding":1,"titleX":100}},
       "y":{"field":"y","type":"quantitative","title":"Residue index","scale":{"domain":[0,280],"nice":false,"zero":false},"axis":{"values":[0,50,100,150,200,250],"grid":false,"labelFontSize":6.5,"titleFontSize":6,"labelPadding":3,"titlePadding":8,"offset":-27}},
       "color":{"field":"v","type":"quantitative","scale":{"domain":[-10,0,10],"range":["#0000ff","#ffffff","#ee0000"],"interpolate":"rgb"},"legend":{"type":"gradient","title":null,"orient":"right","offset":3,"gradientLength":146,"gradientThickness":7,"labelExpr":"''","gradientStrokeColor":"#777777","gradientStrokeWidth":0.5}}
      }},
     {"mark":{"type":"point","shape":"square","filled":true,"size":31,"opacity":1,"strokeWidth":0},
      "encoding":{
       "x":{"field":"y","type":"quantitative","title":"Residue index","axis":{"values":[0,50,100,150,200,250],"grid":false,"labelFontSize":6.5,"titleFontSize":6,"labelPadding":4,"titlePadding":1,"titleX":100}},
       "y":{"field":"x","type":"quantitative","title":"Residue index","axis":{"values":[0,50,100,150,200,250],"grid":false,"labelFontSize":6.5,"titleFontSize":6,"labelPadding":3,"titlePadding":8,"offset":-27}},
       "color":{"field":"v","type":"quantitative"}
      }}
    ]},
   {"data":{"values":[{"t":"e"}]},
    "mark":{"type":"text","font":"Liberation Serif","fontWeight":"bold","fontSize":19,"align":"left","baseline":"alphabetic","color":"#000000"},
    "encoding":{
     "x":{"datum":-126.6,"type":"quantitative","title":"Residue index","axis":{"values":[0,50,100,150,200,250],"grid":false,"labelFontSize":6.5,"titleFontSize":6,"labelPadding":4,"titlePadding":1,"titleX":100}},
     "y":{"datum":257,"type":"quantitative","title":"Residue index","axis":{"values":[0,50,100,150,200,250],"grid":false,"labelFontSize":6.5,"titleFontSize":6,"labelPadding":3,"titlePadding":8,"offset":-27}},
     "text":{"field":"t"}}}
  ]
 },
 {"width":149,"height":149,
  "layer":[
   {"data":{"values":[
{"x":0,"y":5},{"x":5,"y":10},{"x":10,"y":15},{"x":15,"y":20},{"x":20,"y":25},{"x":25,"y":30},{"x":30,"y":35},{"x":35,"y":40},{"x":40,"y":45},{"x":45,"y":50},{"x":50,"y":55},{"x":55,"y":60},{"x":60,"y":65},{"x":65,"y":70},{"x":70,"y":75},{"x":75,"y":80},{"x":80,"y":85},{"x":85,"y":90},{"x":90,"y":95},{"x":95,"y":100},{"x":100,"y":105},{"x":105,"y":110},{"x":110,"y":115},{"x":115,"y":120},{"x":120,"y":125},{"x":125,"y":130},{"x":130,"y":135},{"x":135,"y":140},{"x":140,"y":145},{"x":145,"y":150},{"x":150,"y":155},{"x":155,"y":160},{"x":160,"y":165},{"x":165,"y":170},{"x":170,"y":175},{"x":175,"y":180},{"x":180,"y":185},{"x":185,"y":190},{"x":190,"y":195},{"x":195,"y":200},{"x":200,"y":205},{"x":205,"y":210},{"x":210,"y":215},{"x":215,"y":220},{"x":220,"y":225},{"x":225,"y":230},{"x":230,"y":235},{"x":235,"y":240},{"x":240,"y":245},{"x":245,"y":250},{"x":250,"y":255},{"x":255,"y":260},{"x":260,"y":265},{"x":265,"y":270},{"x":270,"y":275},{"x":275,"y":280},{"x":280,"y":285},
{"x":0,"y":10},{"x":5,"y":15},{"x":10,"y":20},{"x":15,"y":25},{"x":20,"y":30},{"x":25,"y":35},{"x":30,"y":40},{"x":35,"y":45},{"x":40,"y":50},{"x":45,"y":55},{"x":50,"y":60},{"x":55,"y":65},{"x":60,"y":70},{"x":65,"y":75},{"x":70,"y":80},{"x":75,"y":85},{"x":80,"y":90},{"x":85,"y":95},{"x":90,"y":100},{"x":95,"y":105},{"x":100,"y":110},
{"x":170,"y":180},{"x":175,"y":185},{"x":180,"y":190},{"x":185,"y":195},{"x":190,"y":200},{"x":195,"y":205},{"x":200,"y":210},{"x":205,"y":215},{"x":210,"y":220},{"x":215,"y":225},{"x":220,"y":230},{"x":225,"y":235},{"x":230,"y":240},{"x":235,"y":245},{"x":240,"y":250},{"x":245,"y":255},{"x":250,"y":260},{"x":255,"y":265},{"x":260,"y":270},{"x":265,"y":275},{"x":270,"y":280},{"x":275,"y":285},
{"x":0,"y":15},{"x":5,"y":20},{"x":10,"y":25},{"x":15,"y":30},{"x":20,"y":35},{"x":25,"y":40},{"x":30,"y":45},{"x":35,"y":50},{"x":40,"y":55},{"x":45,"y":60},{"x":50,"y":65},{"x":55,"y":70},{"x":60,"y":75},{"x":65,"y":80},{"x":70,"y":85},
{"x":10,"y":30},{"x":20,"y":40},{"x":30,"y":50},{"x":40,"y":60},{"x":50,"y":70},{"x":60,"y":80},
{"x":125,"y":135},{"x":120,"y":140},{"x":115,"y":145},{"x":145,"y":155},{"x":140,"y":160},{"x":135,"y":165},{"x":165,"y":175},{"x":160,"y":180},{"x":155,"y":185},{"x":190,"y":210},{"x":185,"y":215},{"x":210,"y":230},{"x":205,"y":235},{"x":230,"y":250},{"x":225,"y":255},{"x":220,"y":260},{"x":250,"y":270},{"x":245,"y":275},{"x":240,"y":280},
{"x":120,"y":150},{"x":125,"y":155},{"x":130,"y":160},{"x":140,"y":170},{"x":145,"y":175},{"x":150,"y":180},
{"x":215,"y":250},{"x":220,"y":255},{"x":230,"y":265},{"x":235,"y":270},{"x":240,"y":275},{"x":245,"y":280},
{"x":180,"y":200},{"x":180,"y":205},{"x":185,"y":210},{"x":190,"y":215},{"x":195,"y":215},
{"x":0,"y":280},{"x":5,"y":280},{"x":10,"y":280},{"x":15,"y":280},{"x":20,"y":280},{"x":0,"y":275},{"x":15,"y":275},{"x":20,"y":275},{"x":25,"y":275},{"x":20,"y":270},{"x":25,"y":270},{"x":20,"y":265},{"x":25,"y":265},{"x":30,"y":265},{"x":25,"y":260},{"x":30,"y":260},{"x":5,"y":255},{"x":30,"y":255},{"x":35,"y":255},{"x":0,"y":250},{"x":30,"y":250},{"x":0,"y":245},{"x":50,"y":255},
{"x":185,"y":265},{"x":185,"y":270},{"x":190,"y":275},{"x":195,"y":280},{"x":200,"y":280},{"x":110,"y":265},
{"x":75,"y":260},{"x":70,"y":255},{"x":80,"y":255},{"x":70,"y":250},{"x":75,"y":250},{"x":80,"y":250},{"x":80,"y":245},{"x":75,"y":240},{"x":80,"y":240},{"x":75,"y":235},{"x":75,"y":230},{"x":80,"y":230},{"x":80,"y":225},{"x":85,"y":225},{"x":100,"y":225},{"x":105,"y":225},{"x":85,"y":220},{"x":90,"y":220},{"x":95,"y":220},{"x":100,"y":220},{"x":90,"y":215},{"x":95,"y":215},{"x":105,"y":215},{"x":95,"y":210},{"x":105,"y":210},{"x":110,"y":210},{"x":100,"y":205},{"x":110,"y":205},{"x":105,"y":200},{"x":110,"y":200},{"x":115,"y":200},{"x":100,"y":195},{"x":115,"y":195},{"x":95,"y":190},{"x":110,"y":190},{"x":120,"y":190},{"x":90,"y":185},{"x":105,"y":185},{"x":120,"y":185},{"x":100,"y":180},{"x":125,"y":180},{"x":105,"y":175},{"x":120,"y":175},
{"x":125,"y":235},{"x":130,"y":235},{"x":120,"y":230},{"x":135,"y":230},{"x":120,"y":225},{"x":140,"y":225},{"x":125,"y":220},{"x":140,"y":220},{"x":145,"y":220},{"x":130,"y":215},{"x":145,"y":215},{"x":130,"y":210},{"x":150,"y":210},{"x":135,"y":205},
{"x":100,"y":150},{"x":105,"y":155},{"x":110,"y":150},{"x":115,"y":160},{"x":110,"y":165},{"x":120,"y":165},{"x":115,"y":170},
{"x":20,"y":225},{"x":50,"y":220},{"x":55,"y":220},{"x":45,"y":120},{"x":50,"y":120},{"x":35,"y":90},{"x":40,"y":95},{"x":60,"y":135},{"x":65,"y":140},{"x":70,"y":140},{"x":80,"y":135},{"x":85,"y":140},{"x":90,"y":135},{"x":95,"y":130},{"x":100,"y":130},{"x":105,"y":125},{"x":95,"y":115},{"x":100,"y":120},
{"x":55,"y":75},{"x":60,"y":85},{"x":65,"y":90},{"x":40,"y":70},{"x":45,"y":75},{"x":30,"y":55},{"x":35,"y":60},{"x":20,"y":45},{"x":25,"y":50},{"x":15,"y":40},{"x":5,"y":30}
    ]},
    "layer":[
     {"mark":{"type":"point","shape":"square","filled":true,"size":20,"color":"#bdbdbd","opacity":1,"strokeWidth":0},
      "encoding":{
       "x":{"field":"x","type":"quantitative","title":"Atom index","scale":{"domain":[0,285],"nice":false,"zero":false},"axis":{"values":[0,50,100,150,200,250],"grid":false,"labelFontSize":6.5,"titleFontSize":6,"labelPadding":2,"titlePadding":3}},
       "y":{"field":"y","type":"quantitative","title":"Atom index","scale":{"domain":[0,285],"nice":false,"zero":false},"axis":{"values":[0,50,100,150,200,250],"grid":false,"labelFontSize":6.5,"titleFontSize":6,"labelPadding":5,"titlePadding":8}}
      }},
     {"mark":{"type":"point","shape":"square","filled":true,"size":20,"color":"#bdbdbd","opacity":1,"strokeWidth":0},
      "encoding":{
       "x":{"field":"y","type":"quantitative","title":"Atom index","axis":{"values":[0,50,100,150,200,250],"grid":false,"labelFontSize":6.5,"titleFontSize":6,"labelPadding":2,"titlePadding":3}},
       "y":{"field":"x","type":"quantitative","title":"Atom index","axis":{"values":[0,50,100,150,200,250],"grid":false,"labelFontSize":6.5,"titleFontSize":6,"labelPadding":5,"titlePadding":8}}
      }}
    ]},
   {"data":{"values":[{"a":0,"b":285,"v":60}]},
    "mark":{"type":"rule","strokeWidth":1.5},
    "encoding":{
     "x":{"field":"a","type":"quantitative","title":"Atom index","axis":{"values":[0,50,100,150,200,250],"grid":false,"labelFontSize":6.5,"titleFontSize":6,"labelPadding":2,"titlePadding":3}},
     "y":{"field":"a","type":"quantitative","title":"Atom index","axis":{"values":[0,50,100,150,200,250],"grid":false,"labelFontSize":6.5,"titleFontSize":6,"labelPadding":5,"titlePadding":8}},
     "x2":{"field":"b"},
     "y2":{"field":"b"},
     "color":{"field":"v","type":"quantitative","scale":{"domain":[0,60],"range":["#c0c0c0","#000000"]},"legend":{"type":"gradient","title":null,"orient":"right","offset":4,"gradientLength":149,"gradientThickness":7,"values":[0,10,20,30,40,50,60],"format":".1f","labelFontSize":6.5,"labelOffset":5,"labelOverlap":false,"gradientStrokeColor":"#777777","gradientStrokeWidth":0.5}}
    }},
   {"data":{"values":[{"t":"f"}]},
    "mark":{"type":"text","font":"Liberation Serif","fontWeight":"bold","fontSize":19,"align":"left","baseline":"alphabetic","color":"#000000"},
    "encoding":{
     "x":{"datum":-93.7,"type":"quantitative","title":"Atom index","axis":{"values":[0,50,100,150,200,250],"grid":false,"labelFontSize":6.5,"titleFontSize":6,"labelPadding":2,"titlePadding":3}},
     "y":{"datum":271.6,"type":"quantitative","title":"Atom index","axis":{"values":[0,50,100,150,200,250],"grid":false,"labelFontSize":6.5,"titleFontSize":6,"labelPadding":5,"titlePadding":8}},
     "text":{"field":"t"}}}
  ]
 }
],"bounds":"flush","spacing":121,"resolve":{"scale":{"color":"independent","x":"independent","y":"independent"},"legend":{"color":"independent"}}}
]
}
